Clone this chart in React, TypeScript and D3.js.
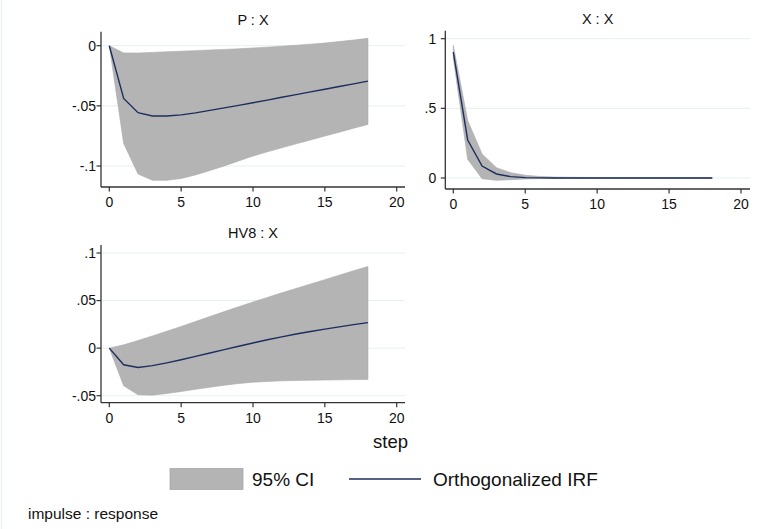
import React from "react";
import * as d3 from "d3";

const steps = [0, 1, 2, 3, 4, 5, 6, 7, 8, 9, 10, 11, 12, 13, 14, 15, 16, 17, 18];

const pxIrf = [0, -0.0438, -0.0557, -0.0584, -0.0584, -0.0575, -0.0558, -0.0538, -0.0517, -0.0496, -0.0474, -0.0452, -0.0429, -0.0407, -0.0384, -0.0362, -0.0339, -0.0317, -0.0294];
const pxLo = [0, -0.0812, -0.1066, -0.1119, -0.1119, -0.1104, -0.1074, -0.1038, -0.0999, -0.0958, -0.0917, -0.0882, -0.0849, -0.0816, -0.0784, -0.0751, -0.0719, -0.0686, -0.0654];
const pxHi = [0, -0.006, -0.0061, -0.0056, -0.0051, -0.0046, -0.0041, -0.0036, -0.0031, -0.0026, -0.0019, -0.0012, -0.0004, 0.0004, 0.0013, 0.0022, 0.0034, 0.0047, 0.0061];

const xxIrf = [0.904, 0.273, 0.086, 0.029, 0.0096, 0.003, 0.001, 0.0003, 0.0001, 0, 0, 0, 0, 0, 0, 0, 0, 0, 0];
const xxLo = [0.861, 0.134, -0.005, -0.017, -0.012, -0.007, -0.004, -0.003, -0.002, -0.002, -0.002, -0.002, -0.002, -0.002, -0.002, -0.002, -0.002, -0.002, -0.002];
const xxHi = [0.952, 0.412, 0.173, 0.074, 0.038, 0.02, 0.011, 0.007, 0.005, 0.004, 0.003, 0.003, 0.003, 0.003, 0.003, 0.003, 0.003, 0.003, 0.003];

const hvIrf = [0, -0.0175, -0.0203, -0.0184, -0.0155, -0.0122, -0.0087, -0.0051, -0.0016, 0.002, 0.0054, 0.0088, 0.0119, 0.0148, 0.0175, 0.02, 0.0224, 0.0247, 0.0268];
const hvLo = [0, -0.0396, -0.049, -0.0494, -0.0477, -0.0456, -0.0433, -0.0411, -0.039, -0.0372, -0.0358, -0.035, -0.0344, -0.034, -0.0337, -0.0335, -0.0333, -0.0331, -0.0329];
const hvHi = [0, 0.0035, 0.008, 0.0128, 0.0178, 0.0228, 0.028, 0.0332, 0.0384, 0.0435, 0.0485, 0.0533, 0.0581, 0.0628, 0.0674, 0.072, 0.0767, 0.0813, 0.0858];

const xTicks = [0, 5, 10, 15, 20];
const xTickLabels = ["0", "5", "10", "15", "20"];

const pxTicks = [-0.1, -0.05, 0];
const pxTickLabels = ["-.1", "-.05", "0"];
const xxTicks = [0, 0.5, 1];
const xxTickLabels = ["0", ".5", "1"];
const hvTicks = [-0.05, 0, 0.05, 0.1];
const hvTickLabels = ["-.05", "0", ".05", ".1"];

const FONT = "'Liberation Sans', Arial, Helvetica, sans-serif";
const BAND = "#b4b4b4";
const LINE = "#1c2e5e";
const GRID = "#e6eff0";
const AXIS = "#333";

type PanelProps = {
  title: string;
  irf: number[];
  lo: number[];
  hi: number[];
  yTicks: number[];
  yLabels: string[];
  left: number;
  right: number;
  top: number;
  bottom: number;
  x0: number;
  x20: number;
  yA: number;
  yApx: number;
  yB: number;
  yBpx: number;
  labelGap: number;
};

function Panel(p: PanelProps) {
  const x = d3.scaleLinear().domain([0, 20]).range([p.x0, p.x20]);
  const y = d3.scaleLinear().domain([p.yA, p.yB]).range([p.yApx, p.yBpx]);
  const area = d3
    .area<number>()
    .x((_, i) => x(steps[i]))
    .y0((_, i) => y(p.lo[i]))
    .y1((_, i) => y(p.hi[i]));
  const line = d3
    .line<number>()
    .x((_, i) => x(steps[i]))
    .y((d) => y(d));
  const cx = (p.left + p.right) / 2;
  return (
    <g>
      <text x={cx} y={p.top - 7} textAnchor="middle" fontSize={14.5} fontFamily={FONT} fill="#111">
        {p.title}
      </text>
      {p.yTicks.map((t) => (
        <line key={"g" + t} x1={p.left} x2={p.right} y1={y(t)} y2={y(t)} stroke={GRID} strokeWidth={1} />
      ))}
      <path d={area(p.irf) || ""} fill={BAND} stroke="#aaaaaa" strokeWidth={0.6} />
      <path d={line(p.irf) || ""} fill="none" stroke={LINE} strokeWidth={1.4} />
      <line x1={p.left} x2={p.left} y1={p.top} y2={p.bottom} stroke={AXIS} strokeWidth={1.3} />
      <line x1={p.left} x2={p.right} y1={p.bottom} y2={p.bottom} stroke={AXIS} strokeWidth={1.3} />
      {p.yTicks.map((t, i) => (
        <g key={"y" + t}>
          <line x1={p.left - 4.5} x2={p.left} y1={y(t)} y2={y(t)} stroke={AXIS} strokeWidth={1.2} />
          <text x={p.left - p.labelGap} y={y(t)} dy="0.35em" textAnchor="end" fontSize={14} fontFamily={FONT} fill="#111">
            {p.yLabels[i]}
          </text>
        </g>
      ))}
      {xTicks.map((t, i) => (
        <g key={"x" + t}>
          <line x1={x(t)} x2={x(t)} y1={p.bottom} y2={p.bottom + 4.5} stroke={AXIS} strokeWidth={1.2} />
          <text x={x(t)} y={p.bottom + 20} textAnchor="middle" fontSize={14} fontFamily={FONT} fill="#111">
            {xTickLabels[i]}
          </text>
        </g>
      ))}
    </g>
  );
}

export default function App() {
  return (
    <svg
      width={768}
      height={529}
      style={{ position: "absolute", left: 0, top: 0, display: "block", background: "#fff" }}
    >
      <rect x={0} y={0} width={768} height={529} fill="#fff" />
      <line x1={1.5} x2={1.5} y1={0} y2={529} stroke="#eef2f3" strokeWidth={1.5} />
      <Panel
        title="P : X"
        irf={pxIrf}
        lo={pxLo}
        hi={pxHi}
        yTicks={pxTicks}
        yLabels={pxTickLabels}
        left={101}
        right={405}
        top={31.7}
        bottom={187}
        x0={109.3}
        x20={396.7}
        yA={-0.1}
        yApx={166}
        yB={0}
        yBpx={45.7}
        labelGap={5}
      />
      <Panel
        title="X : X"
        irf={xxIrf}
        lo={xxLo}
        hi={xxHi}
        yTicks={xxTicks}
        yLabels={xxTickLabels}
        left={445.3}
        right={750}
        top={30.7}
        bottom={189}
        x0={453.3}
        x20={741}
        yA={0}
        yApx={178}
        yB={1}
        yBpx={38.7}
        labelGap={9}
      />
      <Panel
        title="HV8 : X"
        irf={hvIrf}
        lo={hvLo}
        hi={hvHi}
        yTicks={hvTicks}
        yLabels={hvTickLabels}
        left={101}
        right={405}
        top={245}
        bottom={402.7}
        x0={109.3}
        x20={396.7}
        yA={-0.05}
        yApx={395.7}
        yB={0.1}
        yBpx={253}
        labelGap={5}
      />
      <text x={390.5} y={448} textAnchor="middle" fontSize={18.5} fontFamily={FONT} fill="#111">
        step
      </text>
      <rect x={170} y={468.5} width={73} height={21} fill={BAND} stroke="#a8a8a8" strokeWidth={0.8} />
      <text x={252} y={486} fontSize={19} fontFamily={FONT} fill="#111">
        95% CI
      </text>
      <line x1={349} x2={421} y1={479} y2={479} stroke={LINE} strokeWidth={1.5} />
      <text x={433} y={486} fontSize={19} fontFamily={FONT} fill="#111">
        Orthogonalized IRF
      </text>
      <text x={28} y={519} fontSize={15.5} fontFamily={FONT} fill="#111">
        impulse : response
      </text>
    </svg>
  );
}
